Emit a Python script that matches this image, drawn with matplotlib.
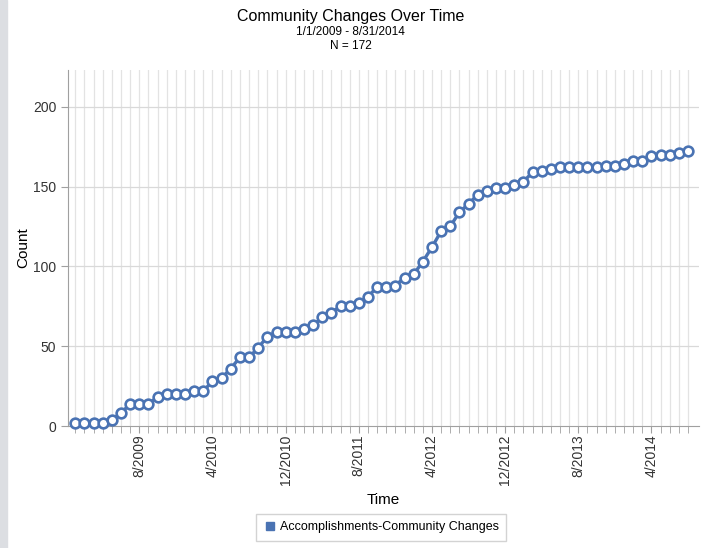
import matplotlib
matplotlib.use("Agg")
import matplotlib.pyplot as plt
from matplotlib.patches import Rectangle
from matplotlib.lines import Line2D

plt.rcParams['font.family'] = ['Liberation Sans', 'DejaVu Sans']

# cumulative count per month, Jan 2009 .. Aug 2014
months = list(range(68))
counts = [2, 2, 2, 2, 4, 8, 14, 14, 14, 18,
          20, 20, 20, 22, 22, 28, 30, 36, 43, 43,
          49, 56, 59, 59, 59, 61, 63, 68, 71, 75,
          75, 77, 81, 87, 87, 88, 93, 95, 103, 112,
          122, 125, 134, 139, 145, 147, 149, 149, 151, 153,
          159, 160, 161, 162, 162, 162, 162, 162, 163, 163,
          164, 166, 166, 169, 170, 170, 171, 172]
tick_pos = [7, 15, 23, 31, 39, 47, 55, 63]
tick_labels = ['8/2009', '4/2010', '12/2010', '8/2011',
               '4/2012', '12/2012', '8/2013', '4/2014']

blue = '#4a73b3'

fig = plt.figure(figsize=(7.01, 5.48), dpi=100)
fig.patches.append(Rectangle((0, 0), 7 / 701, 1, transform=fig.transFigure,
                             color='#dcdee2', zorder=0))

ax = fig.add_axes([68 / 701, 1 - 426 / 548, 631 / 701, 356 / 548])

for m in months:
    ax.axvline(m, color='#e3e3e3', lw=0.9, zorder=0)
for v in [50, 100, 150, 200]:
    ax.axhline(v, color='#d9d9d9', lw=0.9, zorder=0)

ax.plot(months, counts, color=blue, lw=2.4, marker='o', markersize=7,
        markerfacecolor='white', markeredgecolor=blue, markeredgewidth=1.9,
        zorder=3, clip_on=False)

ax.set_xlim(-0.8, 68.2)
ax.set_ylim(0, 223)
ax.set_yticks([0, 50, 100, 150, 200])
ax.set_xticks(tick_pos)
ax.set_xticklabels(tick_labels, rotation=90)
ax.set_xticks(months, minor=True)
ax.tick_params(axis='x', which='both', length=5, color='#a0a0a0', labelsize=10,
               labelcolor='#333333', pad=1)
ax.tick_params(axis='y', length=5, color='#a0a0a0', labelsize=10,
               labelcolor='#333333')

for s in ['top', 'right']:
    ax.spines[s].set_visible(False)
for s in ['left', 'bottom']:
    ax.spines[s].set_color('#a0a0a0')

ax.set_ylabel('Count', fontsize=11, labelpad=2)
ax.set_xlabel('Time', fontsize=11, labelpad=6)

fig.text(0.5, 1 - 16 / 548, 'Community Changes Over Time', ha='center',
         va='center', fontsize=11.5)
fig.text(0.5, 1 - 32 / 548, '1/1/2009 - 8/31/2014', ha='center', va='center',
         fontsize=8.5)
fig.text(0.5, 1 - 46 / 548, 'N = 172', ha='center', va='center', fontsize=8.5)

handle = Line2D([], [], marker='s', color=blue, linestyle='none', markersize=6)
fig.legend([handle], ['Accomplishments-Community Changes'], loc='center',
           bbox_to_anchor=(381 / 701, 1 - 527 / 548), fontsize=9,
           frameon=True, fancybox=False, edgecolor='#c8c8c8',
           handletextpad=0.3, borderpad=0.6, handlelength=1.0)

fig.savefig('out.png', dpi=100)
